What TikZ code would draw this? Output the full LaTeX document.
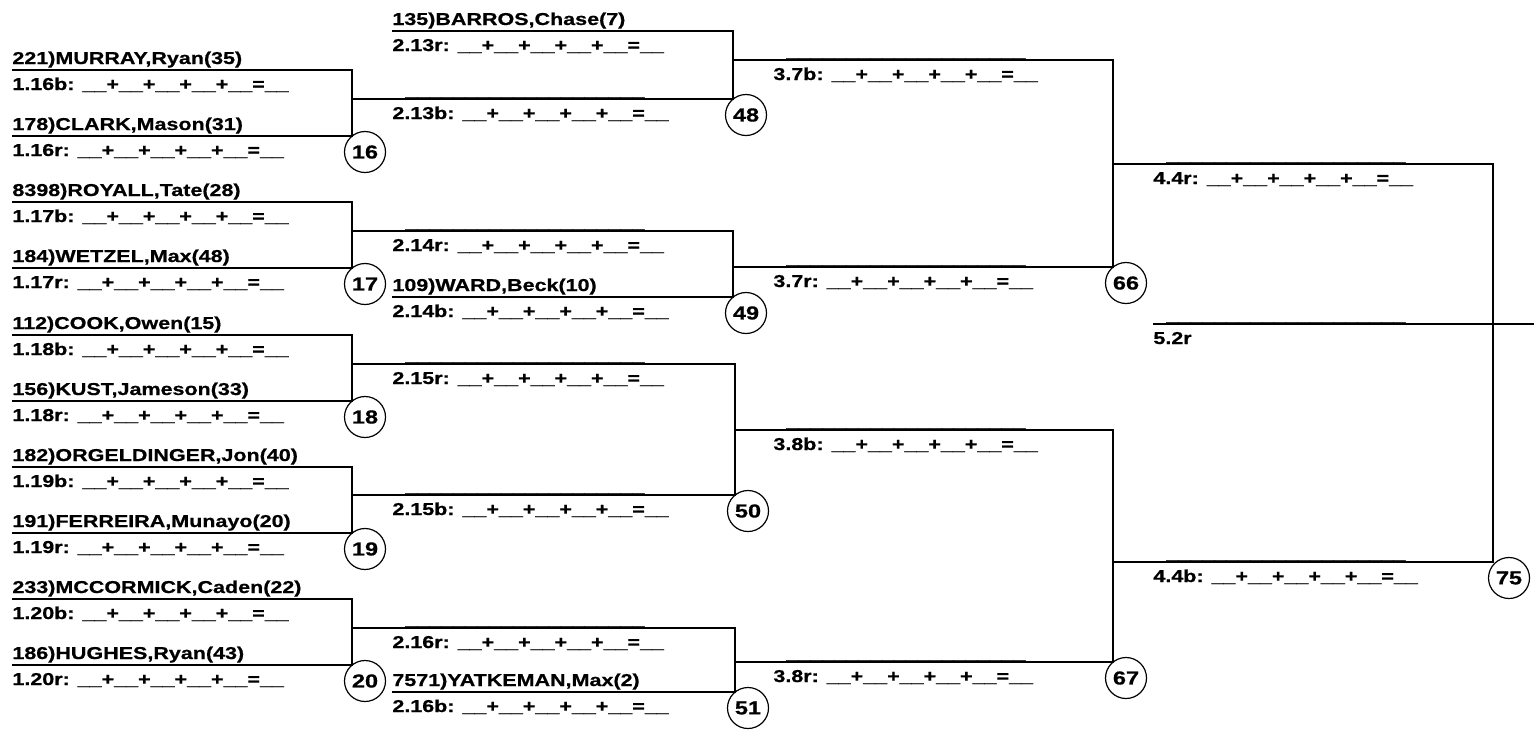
\documentclass[tikz,border=0pt]{standalone}
\usepackage{fontspec}
\newfontfamily\brfont[FakeStretch=1.25,FakeBold=0.7]{Liberation Sans}
\usetikzlibrary{positioning}
\newcommand\brf{\fontsize{8.6}{10}\brfont\bfseries}
\newcommand\scorefill[1]{#1: \_\_+\_\_+\_\_+\_\_+\_\_=\_\_}
\newcommand\blankln{\_\_\_\_\_\_\_\_\_\_\_\_\_\_\_\_\_\_\_\_}
\tikzset{
  bline/.style={draw=black, line width=0.6pt},
  plyr/.style={anchor=base west, inner sep=0pt, font=\brf, yshift=3pt},
  score/.style={anchor=base west, inner sep=0pt, font=\brf, yshift=-10pt},
  blank/.style={anchor=base west, inner sep=0pt, font=\brf, xshift=6.5pt, yshift=1.5pt},
  bout/.style={circle, draw=black, line width=0.6pt, minimum size=20.5pt, inner sep=0pt,
    font=\fontsize{9.4}{10}\brfont\bfseries}
}

\begin{document}
\begin{tikzpicture}[x=0.5pt,y=-0.5pt]
  \useasboundingbox (0,0) rectangle (1534,729);

  % round 1
  \coordinate (s116b) at (12,70);  \coordinate (e116b) at (352,70);
  \coordinate (s116r) at (12,136); \coordinate (e116r) at (352,136);
  \coordinate (s117b) at (12,202); \coordinate (e117b) at (352,202);
  \coordinate (s117r) at (12,268); \coordinate (e117r) at (352,268);
  \coordinate (s118b) at (12,335); \coordinate (e118b) at (352,335);
  \coordinate (s118r) at (12,401); \coordinate (e118r) at (352,401);
  \coordinate (s119b) at (12,467); \coordinate (e119b) at (352,467);
  \coordinate (s119r) at (12,533); \coordinate (e119r) at (352,533);
  \coordinate (s120b) at (12,599); \coordinate (e120b) at (352,599);
  \coordinate (s120r) at (12,665); \coordinate (e120r) at (352,665);
  \coordinate (j16) at (352,99);
  \coordinate (j17) at (352,231);
  \coordinate (j18) at (352,364);
  \coordinate (j19) at (352,495);
  \coordinate (j20) at (352,628);

  \draw[bline] (s116b) -- (e116b) -- (e116r) -- (s116r);
  \draw[bline] (s117b) -- (e117b) -- (e117r) -- (s117r);
  \draw[bline] (s118b) -- (e118b) -- (e118r) -- (s118r);
  \draw[bline] (s119b) -- (e119b) -- (e119r) -- (s119r);
  \draw[bline] (s120b) -- (e120b) -- (e120r) -- (s120r);

  \node[plyr] (p221) at (s116b) {221)MURRAY,Ryan(35)};
  \node[score] (t116b) at (s116b) {\scorefill{1.16b}};
  \node[plyr] (p178) at (s116r) {178)CLARK,Mason(31)};
  \node[score] (t116r) at (s116r) {\scorefill{1.16r}};
  \node[plyr] (p8398) at (s117b) {8398)ROYALL,Tate(28)};
  \node[score] (t117b) at (s117b) {\scorefill{1.17b}};
  \node[plyr] (p184) at (s117r) {184)WETZEL,Max(48)};
  \node[score] (t117r) at (s117r) {\scorefill{1.17r}};
  \node[plyr] (p112) at (s118b) {112)COOK,Owen(15)};
  \node[score] (t118b) at (s118b) {\scorefill{1.18b}};
  \node[plyr] (p156) at (s118r) {156)KUST,Jameson(33)};
  \node[score] (t118r) at (s118r) {\scorefill{1.18r}};
  \node[plyr] (p182) at (s119b) {182)ORGELDINGER,Jon(40)};
  \node[score] (t119b) at (s119b) {\scorefill{1.19b}};
  \node[plyr] (p191) at (s119r) {191)FERREIRA,Munayo(20)};
  \node[score] (t119r) at (s119r) {\scorefill{1.19r}};
  \node[plyr] (p233) at (s120b) {233)MCCORMICK,Caden(22)};
  \node[score] (t120b) at (s120b) {\scorefill{1.20b}};
  \node[plyr] (p186) at (s120r) {186)HUGHES,Ryan(43)};
  \node[score] (t120r) at (s120r) {\scorefill{1.20r}};

  \node[bout] (b16) at (365,152) {16};
  \node[bout] (b17) at (365,284) {17};
  \node[bout] (b18) at (365,417) {18};
  \node[bout] (b19) at (365,549) {19};
  \node[bout] (b20) at (365,681) {20};

  % round 2
  \coordinate (s213r) at (392,31);  \coordinate (e213r) at (733,31);
  \coordinate (s213b) at (392,99);  \coordinate (e213b) at (733,99);
  \coordinate (s214r) at (392,231); \coordinate (e214r) at (733,231);
  \coordinate (s214b) at (392,297); \coordinate (e214b) at (733,297);
  \coordinate (s215r) at (392,364); \coordinate (e215r) at (735,364);
  \coordinate (s215b) at (392,495); \coordinate (e215b) at (735,495);
  \coordinate (s216r) at (392,628); \coordinate (e216r) at (735,628);
  \coordinate (s216b) at (392,692); \coordinate (e216b) at (735,692);
  \coordinate (j48) at (733,60);
  \coordinate (j49) at (733,267);
  \coordinate (j50) at (735,430);
  \coordinate (j51) at (735,662);

  \draw[bline] (s213r) -- (e213r) -- (e213b) -- (j16);
  \draw[bline] (j17) -- (e214r) -- (e214b) -- (s214b);
  \draw[bline] (j18) -- (e215r) -- (e215b) -- (j19);
  \draw[bline] (j20) -- (e216r) -- (e216b) -- (s216b);

  \node[plyr] (p135) at (s213r) {135)BARROS,Chase(7)};
  \node[score] (t213r) at (s213r) {\scorefill{2.13r}};
  \node[blank] (u213b) at (s213b) {\blankln};
  \node[score] (t213b) at (s213b) {\scorefill{2.13b}};
  \node[blank] (u214r) at (s214r) {\blankln};
  \node[score] (t214r) at (s214r) {\scorefill{2.14r}};
  \node[plyr] (p109) at (s214b) {109)WARD,Beck(10)};
  \node[score] (t214b) at (s214b) {\scorefill{2.14b}};
  \node[blank] (u215r) at (s215r) {\blankln};
  \node[score] (t215r) at (s215r) {\scorefill{2.15r}};
  \node[blank] (u215b) at (s215b) {\blankln};
  \node[score] (t215b) at (s215b) {\scorefill{2.15b}};
  \node[blank] (u216r) at (s216r) {\blankln};
  \node[score] (t216r) at (s216r) {\scorefill{2.16r}};
  \node[plyr] (p7571) at (s216b) {7571)YATKEMAN,Max(2)};
  \node[score] (t216b) at (s216b) {\scorefill{2.16b}};

  \node[bout] (b48) at (746,115) {48};
  \node[bout] (b49) at (746,313) {49};
  \node[bout] (b50) at (748,511) {50};
  \node[bout] (b51) at (748,708) {51};

  % round 3
  \coordinate (s37b) at (773,60);  \coordinate (e37b) at (1113,60);
  \coordinate (s37r) at (773,267); \coordinate (e37r) at (1113,267);
  \coordinate (s38b) at (773,430); \coordinate (e38b) at (1113,430);
  \coordinate (s38r) at (773,662); \coordinate (e38r) at (1113,662);
  \coordinate (j66) at (1113,164);
  \coordinate (j67) at (1113,562);

  \draw[bline] (j48) -- (e37b) -- (e37r) -- (j49);
  \draw[bline] (j50) -- (e38b) -- (e38r) -- (j51);

  \node[blank] (u37b) at (s37b) {\blankln};
  \node[score] (t37b) at (s37b) {\scorefill{3.7b}};
  \node[blank] (u37r) at (s37r) {\blankln};
  \node[score] (t37r) at (s37r) {\scorefill{3.7r}};
  \node[blank] (u38b) at (s38b) {\blankln};
  \node[score] (t38b) at (s38b) {\scorefill{3.8b}};
  \node[blank] (u38r) at (s38r) {\blankln};
  \node[score] (t38r) at (s38r) {\scorefill{3.8r}};

  \node[bout] (b66) at (1126,283) {66};
  \node[bout] (b67) at (1126,678) {67};

  % round 4 and final
  \coordinate (s44r) at (1153,164); \coordinate (e44r) at (1493,164);
  \coordinate (s44b) at (1153,562); \coordinate (e44b) at (1493,562);
  \coordinate (s52r) at (1153,324); \coordinate (e52r) at (1534,324);

  \draw[bline] (j66) -- (e44r) -- (e44b) -- (j67);
  \draw[bline] (s52r) -- (e52r);

  \node[blank] (u44r) at (s44r) {\blankln};
  \node[score] (t44r) at (s44r) {\scorefill{4.4r}};
  \node[blank] (u44b) at (s44b) {\blankln};
  \node[score] (t44b) at (s44b) {\scorefill{4.4b}};
  \node[blank] (u52r) at (s52r) {\blankln};
  \node[score] (t52r) at (s52r) {5.2r};

  \node[bout] (b75) at (1509,578) {75};
\end{tikzpicture}
\end{document}
